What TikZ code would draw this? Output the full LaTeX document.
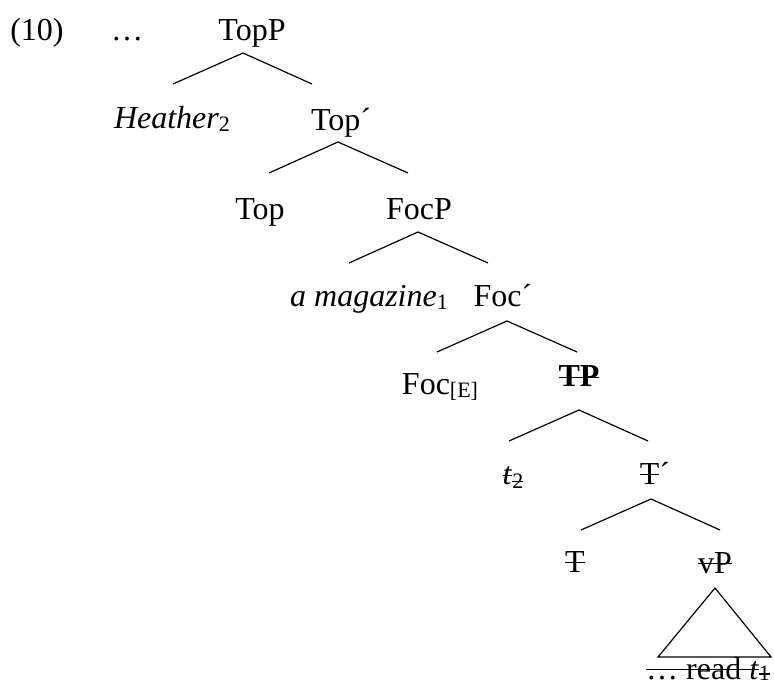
\documentclass[tikz,border=0pt]{standalone}
\usepackage{fontspec}
\setmainfont{Liberation Serif}
\newcommand\sbs[1]{\raisebox{-3pt}{\fontsize{22}{22}\selectfont #1}}
\newcommand\stk[1]{\setbox0\hbox{#1}\rlap{\rule[0.27em]{\wd0}{0.055em}}\box0}
\begin{document}
\begin{tikzpicture}[x=1pt,y=-1pt,
  lbl/.style={anchor=base,inner sep=0pt,font=\fontsize{32}{38}\selectfont},
  br/.style={line width=1.2pt}]
\useasboundingbox (0,0) rectangle (774,684);
% labels
\node[lbl] (ex) at (37,41) {(10)};
\node[lbl] (dots) at (127,41) {…};
\node[lbl] (TopP) at (252,41) {TopP};
\node[lbl] (Heather) at (172,129) {\textit{Heather}\sbs{2}};
\node[lbl] (Topbar) at (341,131) {Top´};
\node[lbl] (Top) at (260,220) {Top};
\node[lbl] (FocP) at (419,220) {FocP};
\node[lbl] (mag) at (369,307) {\textit{a magazine}\sbs{1}};
\node[lbl] (Focbar) at (503,307) {Foc´};
\node[lbl] (FocE) at (440,395) {Foc\sbs{[E]}};
\node[lbl] (TP) at (579,387) {\bfseries\stk{TP}};
\node[lbl] (t2) at (513,485) {\stk{\textit{t}}\sbs{\stk{2}}};
\node[lbl] (Tbar) at (655,484) {\stk{T}´};
\node[lbl] (T) at (575,572) {\stk{T}};
\node[lbl] (vP) at (715,573) {\stk{vP}};
\node[lbl] (vPc) at (708,679) {\stk{… read \textit{t}}\raisebox{-1.5pt}{\fontsize{22}{22}\selectfont\stk{1}}};
% branch points
\coordinate (a1) at (243,53);  \coordinate (l1) at (173,84);  \coordinate (r1) at (312,84);
\coordinate (a2) at (338,142); \coordinate (l2) at (269,173); \coordinate (r2) at (408,173);
\coordinate (a3) at (418,232); \coordinate (l3) at (349,263); \coordinate (r3) at (488,263);
\coordinate (a4) at (507,321); \coordinate (l4) at (437,352); \coordinate (r4) at (577,352);
\coordinate (a5) at (579,410); \coordinate (l5) at (509,441); \coordinate (r5) at (648,441);
\coordinate (a6) at (651,499); \coordinate (l6) at (581,530); \coordinate (r6) at (720,530);
\coordinate (ta) at (715,588); \coordinate (tl) at (658,657); \coordinate (tr) at (771,657);
% branches
\foreach \i in {1,...,6}{\draw[br] (l\i) -- (a\i) -- (r\i);}
\draw[br] (ta) -- (tl) -- (tr) -- cycle;
\end{tikzpicture}
\end{document}
